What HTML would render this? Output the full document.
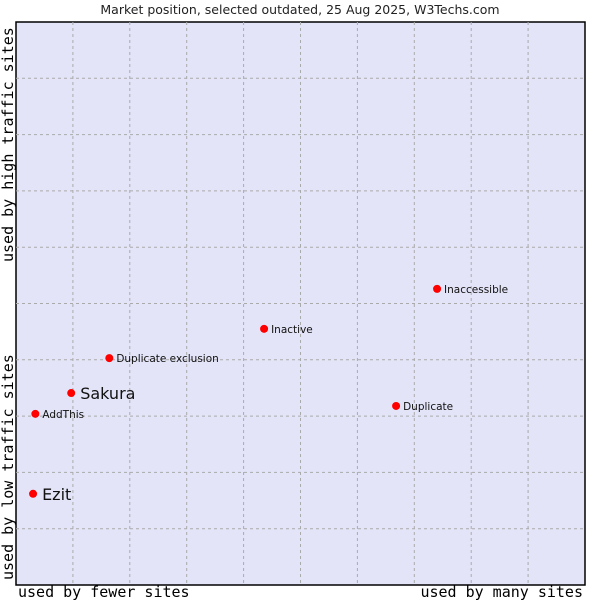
<!DOCTYPE html>
<html><head><meta charset="utf-8"><style>
body{margin:0;background:#fff;width:600px;height:600px;overflow:hidden}
svg text{font-family:"DejaVu Sans","Liberation Sans",sans-serif}
.mono{font-family:"DejaVu Sans Mono","Liberation Mono",monospace}
</style></head><body>
<svg id="chart" width="600" height="600" xmlns="http://www.w3.org/2000/svg">
<text x="300" y="14" text-anchor="middle" font-size="12.5" fill="#222">Market position, selected outdated, 25 Aug 2025, W3Techs.com</text>
<rect x="16" y="22" width="569" height="563" fill="#e3e4f8" stroke="#000" stroke-width="1.5"/>
<g id="grid"></g>
<g id="points"></g>
<text class="mono" x="18" y="597" font-size="15" fill="#000">used by fewer sites</text>
<text class="mono" x="583" y="597" text-anchor="end" font-size="15" fill="#000">used by many sites</text>
<text class="mono" transform="translate(13,580) rotate(-90)" font-size="15" fill="#000">used by low traffic sites</text>
<text class="mono" transform="translate(13,262) rotate(-90)" font-size="15" fill="#000">used by high traffic sites</text>
</svg>
<script>
const names=["Ezit","AddThis","Sakura","Duplicate exclusion","Inactive","Duplicate","Inaccessible"];
const xVals=[3.0,3.4,9.7,16.4,43.6,66.8,74.0];
const yVals=[16.2,30.4,34.1,40.3,45.5,31.8,52.6];
const bigLabel=[true,false,true,false,false,false,false];
const X0=16,X1=585,Y0=585,Y1=22;
const sx=v=>X0+(X1-X0)*v/100, sy=v=>Y0-(Y0-Y1)*v/100;
const NS="http://www.w3.org/2000/svg";
const grid=document.getElementById('grid'), pts=document.getElementById('points');
for(let i=1;i<10;i++){
  const v=document.createElementNS(NS,'line');
  v.setAttribute('x1',sx(i*10));v.setAttribute('x2',sx(i*10));v.setAttribute('y1',Y1);v.setAttribute('y2',Y0);
  v.setAttribute('stroke','#aaa');v.setAttribute('stroke-dasharray','3,3');
  
  
  grid.appendChild(v);
  const h=document.createElementNS(NS,'line');
  h.setAttribute('y1',sy(i*10));h.setAttribute('y2',sy(i*10));h.setAttribute('x1',X0);h.setAttribute('x2',X1);
  h.setAttribute('stroke','#aaa');h.setAttribute('stroke-dasharray','3,3');
  
  
  grid.appendChild(h);
}
names.forEach((n,i)=>{
  const cx=sx(xVals[i]),cy=sy(yVals[i]);
  const c=document.createElementNS(NS,'circle');
  c.setAttribute('cx',cx);c.setAttribute('cy',cy);c.setAttribute('r',4);c.setAttribute('fill','#f00');
  
  
  pts.appendChild(c);
  const t=document.createElementNS(NS,'text');
  t.setAttribute('x',cx+(bigLabel[i]?9:7));t.setAttribute('y',cy+(bigLabel[i]?6:4));
  t.setAttribute('font-size',bigLabel[i]?16:10.5);t.setAttribute('fill','#111');
  t.textContent=n;
  
  
  pts.appendChild(t);
});
</script>
</body></html>
